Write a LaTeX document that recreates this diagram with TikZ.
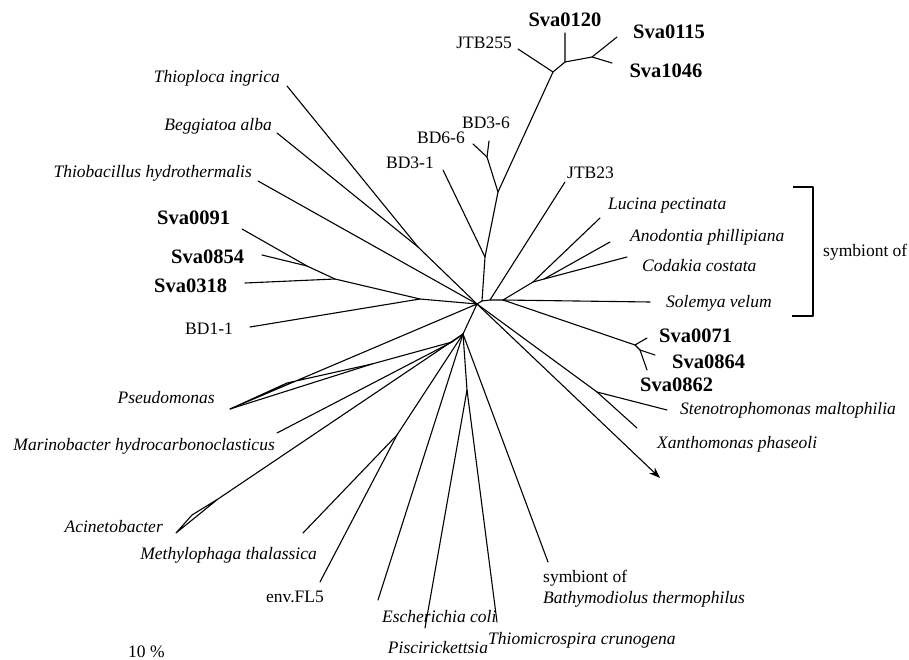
\documentclass[tikz,border=0pt]{standalone}
\usepackage{fontspec}
\setmainfont{Liberation Serif}
\usetikzlibrary{arrows.meta}
\begin{document}
\begin{tikzpicture}[x=1pt,y=-1pt,
  br/.style={line width=1.1pt, line cap=round, line join=round},
  lbl/.style={inner sep=0pt, font=\fontsize{17.5}{20}\selectfont},
  ilbl/.style={inner sep=0pt, font=\fontsize{17.5}{20}\selectfont\itshape},
  blbl/.style={inner sep=0pt, font=\fontsize{20.5}{24}\selectfont\bfseries}]
\useasboundingbox[fill=white] (0,0) rectangle (909,660);

% ---------- tree coordinates ----------
\coordinate (H) at (477,304);
\coordinate (A) at (482,301);
\coordinate (B) at (490,300);
\coordinate (R1) at (503,300);
\coordinate (L) at (533,282);
\coordinate (L2) at (544,279);
\coordinate (eluc) at (600,218);
\coordinate (eano) at (610,242);
\coordinate (ecod) at (627,257);
\coordinate (esol) at (650,302);
\coordinate (ejtb23) at (565,182);
\coordinate (S71) at (635,345);
\coordinate (S71b) at (640,350);
\coordinate (es071) at (647,338);
\coordinate (es864) at (655,355);
\coordinate (es862) at (647,370);
% BD
\coordinate (BDn) at (485,257);
\coordinate (BDn2) at (498,192);
\coordinate (BDn3) at (487,157);
\coordinate (ebd66) at (473,144);
\coordinate (ebd36) at (489,141);
\coordinate (ebd31) at (443,170);
% top
\coordinate (T1) at (553,72);
\coordinate (ejtb255) at (518,49);
\coordinate (T2) at (565,62);
\coordinate (es120) at (565,33);
\coordinate (T3) at (592,57);
\coordinate (es115) at (617,37);
\coordinate (es1046) at (612,63);
% upper left
\coordinate (N1) at (418,247);
\coordinate (ethiop) at (287,86);
\coordinate (ebegg) at (277,133);
\coordinate (ethiob) at (258,181);
% Sva left cluster
\coordinate (C0) at (420,299);
\coordinate (C1) at (335,279);
\coordinate (C2) at (307,266);
\coordinate (es091) at (242,229);
\coordinate (es854) at (262,255);
\coordinate (es318) at (245,283);
\coordinate (ebd11) at (250,327);
% bottom
\coordinate (B1) at (463,334);
\coordinate (P) at (452,342);
\coordinate (Pa) at (372,364);
\coordinate (PV1) at (287,383);
\coordinate (PV2) at (230,409);
\coordinate (emar) at (277,433);
\coordinate (Aa) at (218,499);
\coordinate (AV1) at (192,515);
\coordinate (AV2) at (176,533);
\coordinate (M1) at (397,435);
\coordinate (emet) at (303,533);
\coordinate (eenv) at (320,582);
\coordinate (eesc) at (378,600);
\coordinate (Q) at (467,390);
\coordinate (epis) at (425,628);
\coordinate (ethm) at (497,622);
\coordinate (ebat) at (548,562);
% right bottom
\coordinate (X1) at (597,392);
\coordinate (este) at (667,410);
\coordinate (exan) at (637,428);
\coordinate (earr) at (660,478);

% ---------- branches ----------
\draw[br] (H) -- (A) -- (B) -- (R1);
\draw[br] (R1) -- (L) -- (eluc);
\draw[br] (L) -- (L2) -- (eano);
\draw[br] (L2) -- (ecod);
\draw[br] (R1) -- (esol);
\draw[br] (B) -- (ejtb23);
\draw[br] (R1) -- (S71) -- (es071);
\draw[br] (S71) -- (S71b) -- (es864);
\draw[br] (S71b) -- (es862);
\draw[br] (A) -- (BDn) -- (ebd31);
\draw[br] (BDn) -- (BDn2) -- (BDn3) -- (ebd66);
\draw[br] (BDn3) -- (ebd36);
\draw[br] (BDn2) -- (T1) -- (ejtb255);
\draw[br] (T1) -- (T2) -- (es120);
\draw[br] (T2) -- (T3) -- (es115);
\draw[br] (T3) -- (es1046);
\draw[br] (H) -- (N1) -- (ethiop);
\draw[br] (N1) -- (ebegg);
\draw[br] (H) -- (ethiob);
\draw[br] (H) -- (C0) -- (C1) -- (C2) -- (es091);
\draw[br] (C2) -- (es854);
\draw[br] (C1) -- (es318);
\draw[br] (C0) -- (ebd11);
\draw[br] (H) -- (B1) -- (P) -- (Pa) -- (PV1) -- (PV2) -- cycle;
\draw[br] (Pa) -- (PV2);
\draw[br] (P) -- (emar);
\draw[br] (B1) -- (Aa) -- (AV1) -- (AV2) -- (Aa);
\draw[br] (B1) -- (M1) -- (emet);
\draw[br] (M1) -- (eenv);
\draw[br] (B1) -- (eesc);
\draw[br] (B1) -- (Q) -- (epis);
\draw[br] (Q) -- (ethm);
\draw[br] (B1) -- (ebat);
\draw[br] (H) -- (X1) -- (este);
\draw[br] (X1) -- (exan);
\draw[br, -{Stealth[length=11pt,width=8pt]}] (H) -- (earr);

% bracket
\coordinate (k1) at (793,187);
\coordinate (k2) at (813,187);
\coordinate (k3) at (813,316);
\coordinate (k4) at (792,316);
\draw[br, line cap=butt] (k1) -- (k2) -- (k3) -- (k4);

% ---------- labels ----------
\node[blbl] (t120) at (565,20) {Sva0120};
\node[blbl] (t115) at (669,32) {Sva0115};
\node[blbl] (t1046) at (666,71) {Sva1046};
\node[lbl, anchor=east] (tjtb255) at (512,43) {JTB255};
\node[lbl] (tbd36) at (486,123) {BD3-6};
\node[lbl] (tbd66) at (441,138) {BD6-6};
\node[lbl] (tbd31) at (410,163) {BD3-1};
\node[lbl, anchor=west] (tjtb23) at (567,173) {JTB23};
\node[ilbl, anchor=west] (tluc) at (608,206) {Lucina pectinata};
\node[ilbl, anchor=west] (tano) at (630,237) {Anodontia phillipiana};
\node[ilbl, anchor=west] (tcod) at (642,266) {Codakia costata};
\node[ilbl, anchor=west] (tsol) at (666,303) {Solemya velum};
\node[lbl, anchor=west] (tsym) at (823,252) {symbiont of};
\node[blbl, anchor=west] (t071) at (659,336) {Sva0071};
\node[blbl, anchor=west] (t864) at (672,362) {Sva0864};
\node[blbl, anchor=west] (t862) at (640,385) {Sva0862};
\node[ilbl, anchor=west] (tste) at (680,410) {Stenotrophomonas maltophilia};
\node[ilbl, anchor=west] (txan) at (657,444) {Xanthomonas phaseoli};
\node[ilbl, anchor=east] (tthiop) at (280,78) {Thioploca ingrica};
\node[ilbl, anchor=east] (tbegg) at (272,126) {Beggiatoa alba};
\node[ilbl, anchor=east] (tthiob) at (252,173) {Thiobacillus hydrothermalis};
\node[blbl, anchor=west] (t091) at (157,218) {Sva0091};
\node[blbl, anchor=west] (t854) at (171,257) {Sva0854};
\node[blbl, anchor=west] (t318) at (154,286) {Sva0318};
\node[lbl, anchor=west] (tbd11) at (185,329) {BD1-1};
\node[ilbl, anchor=east] (tpse) at (215,398) {Pseudomonas};
\node[ilbl, anchor=east] (tmar) at (275,446) {Marinobacter hydrocarbonoclasticus};
\node[ilbl, anchor=east] (taci) at (163,527) {Acinetobacter};
\node[ilbl, anchor=east] (tmet) at (317,555) {Methylophaga thalassica};
\node[lbl, anchor=east] (tenv) at (324,597) {env.FL5};
\node[ilbl, anchor=west] (tesc) at (382,617) {Escherichia coli};
\node[ilbl] (tpis) at (438,648) {Piscirickettsia};
\node[ilbl, anchor=west] (tthm) at (488,640) {Thiomicrospira crunogena};
\node[lbl, anchor=west] (tbat1) at (543,578) {symbiont of};
\node[ilbl, anchor=west] (tbat2) at (543,599) {Bathymodiolus thermophilus};
\node[lbl, anchor=west] (tscale) at (128,652) {10 \%};
\end{tikzpicture}
\end{document}
